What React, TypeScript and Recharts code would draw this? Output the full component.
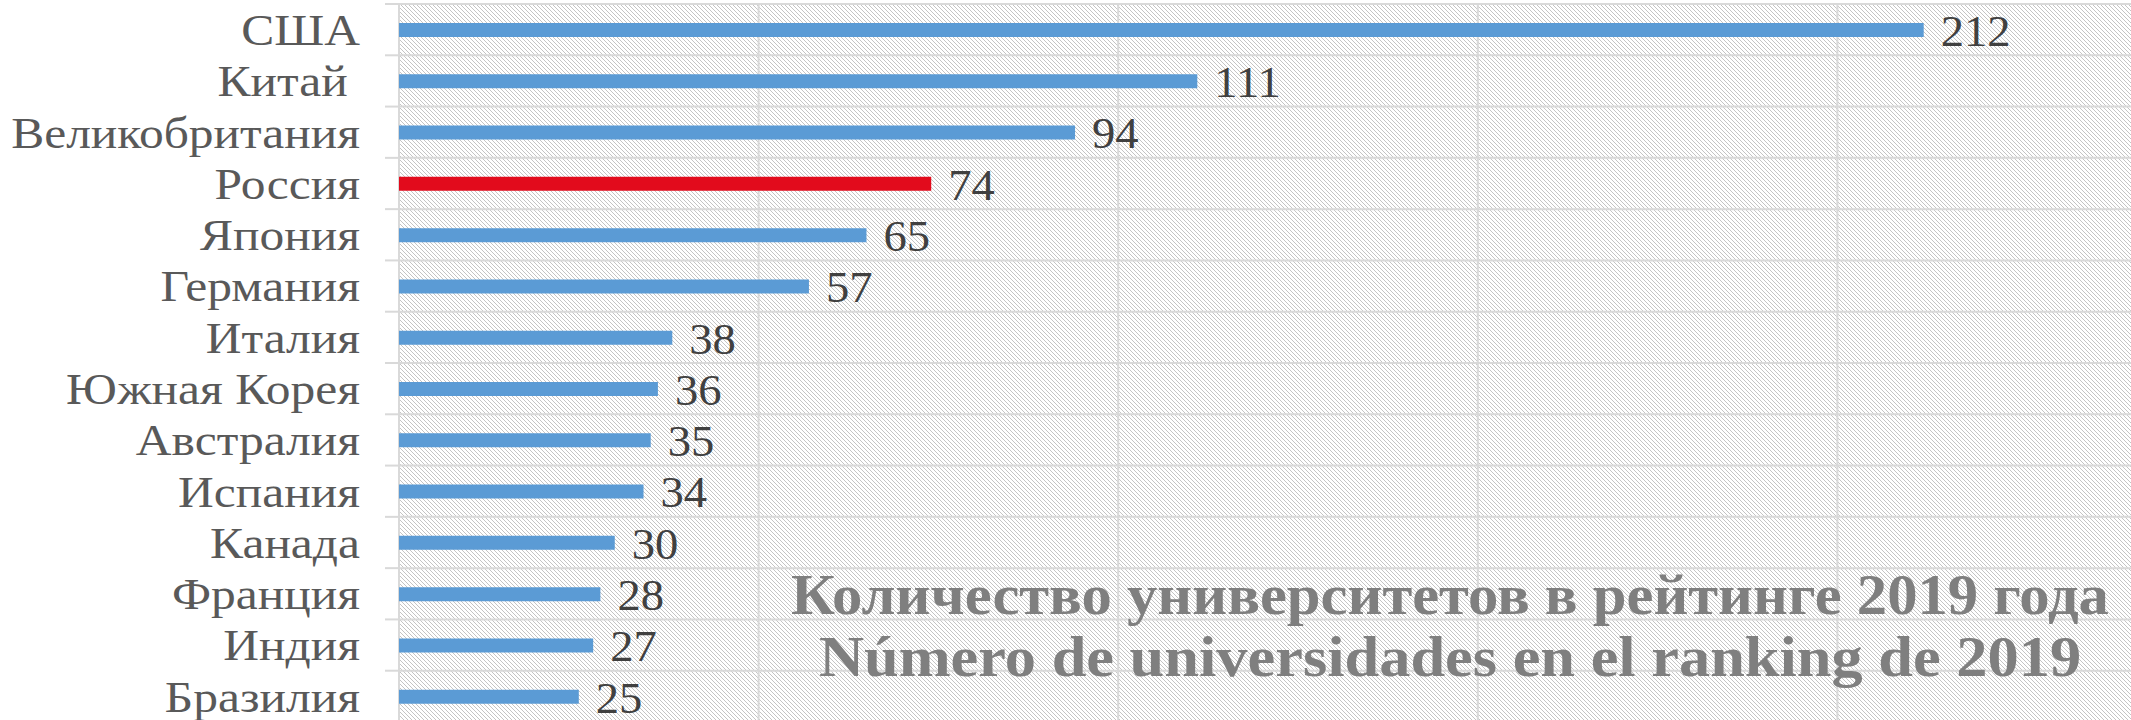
import React from 'react';
import { BarChart, Bar, XAxis, YAxis, CartesianGrid, Cell, LabelList } from 'recharts';

const countries = ['США', 'Китай ', 'Великобритания', 'Россия', 'Япония', 'Германия', 'Италия', 'Южная Корея', 'Австралия', 'Испания', 'Канада', 'Франция', 'Индия', 'Бразилия'];
const universities = [212, 111, 94, 74, 65, 57, 38, 36, 35, 34, 30, 28, 27, 25];
const xTicks = [0, 50, 100, 150, 200, 250];
const titleLines = ['Количество университетов в рейтинге 2019 года', 'Número de universidades en el ranking de 2019'];
const titleScales = [1.083, 1.114];
const highlight = 'Россия';

const data = countries.map((name, i) => ({ name, value: universities[i] }));

const CHART_W = 2200;
const CHART_H = 730;
const MARGIN = { top: 4, right: 3, bottom: 8, left: 0 };
const Y_W = 399;
const ROW_H = (CHART_H - MARGIN.top - MARGIN.bottom) / countries.length;
const FONT = '"Liberation Serif", "DejaVu Serif", serif';

const CategoryTick = (props: any) => {
  const { x, y, payload, index } = props;
  const last = index === countries.length - 1;
  return (
    <g>
      <line x1={x - 14} x2={x} y1={y - ROW_H / 2} y2={y - ROW_H / 2} stroke="#d9d9d9" strokeWidth={2} />
      {last && <line x1={x - 14} x2={x} y1={y + ROW_H / 2} y2={y + ROW_H / 2} stroke="#d9d9d9" strokeWidth={2} />}
      <text
        transform={`translate(${x - 39},${y}) scale(1.125,1)`}
        dy="0.35em"
        textAnchor="end"
        fill="#595959"
        fontSize={44}
        fontFamily={FONT}
        style={{ whiteSpace: 'pre' }}
      >
        {payload.value}
      </text>
    </g>
  );
};

const ValueLabel = (props: any) => {
  const { x, y, width, height, value } = props;
  const lx = Number(x) + Number(width) + 17;
  const ly = Number(y) + Number(height) / 2;
  return (
    <text transform={`translate(${lx},${ly}) scale(1.06,1)`} dy="0.36em" textAnchor="start" fill="#404040" fontSize={44} fontFamily={FONT}>
      {value}
    </text>
  );
};

export default function App() {
  return (
    <div style={{ position: 'fixed', left: 0, top: 0, width: 2131, height: 720, overflow: 'hidden', background: '#fff' }}>
      <svg width={0} height={0} style={{ position: 'absolute' }}>
        <defs>
          <pattern id="hatch" patternUnits="userSpaceOnUse" width={4} height={4}>
            <rect width={4} height={4} fill="#ffffff" />
            <path d="M-1,-1 L5,5 M3,-1 L5,1 M-1,3 L1,5" stroke="#c4c4c4" strokeWidth={1} />
          </pattern>
        </defs>
      </svg>
      <BarChart width={CHART_W} height={CHART_H} data={data} layout="vertical" margin={MARGIN}>
        <CartesianGrid
          fill="url(#hatch)"
          fillOpacity={1}
          stroke="#d9d9d9"
          strokeWidth={2}
          horizontalCoordinatesGenerator={({ offset }: any) =>
            countries.map((_, i) => offset.top + (i * offset.height) / countries.length).concat([offset.top + offset.height])
          }
          verticalCoordinatesGenerator={({ xAxis, offset }: any) =>
            xTicks.map((t) =>
              xAxis && typeof xAxis.scale === 'function'
                ? xAxis.scale(t)
                : offset.left + (t / xTicks[xTicks.length - 1]) * offset.width
            )
          }
        />
        <XAxis type="number" domain={[0, 250]} ticks={xTicks} tick={false} axisLine={false} tickLine={false} height={0} />
        <YAxis
          type="category"
          dataKey="name"
          width={Y_W}
          axisLine={false}
          tickLine={false}
          tickSize={0}
          tickMargin={0}
          interval={0}
          tick={<CategoryTick />}
        />
        <Bar dataKey="value" barSize={14} isAnimationActive={false}>
          {data.map((d) => (
            <Cell key={d.name} fill={d.name === highlight ? '#e20b1c' : '#5b9bd5'} />
          ))}
          <LabelList dataKey="value" content={<ValueLabel />} />
        </Bar>
      </BarChart>
      <div
        style={{
          position: 'absolute',
          left: 0,
          top: 564,
          width: 2900,
          marginLeft: 1450 - 1450,
          fontFamily: FONT,
          fontWeight: 'bold',
          fontSize: 56,
          lineHeight: '62px',
          color: '#7f7f7f',
        }}
      >
        {titleLines.map((t, i) => (
          <div key={t} style={{ textAlign: 'center', whiteSpace: 'nowrap', transform: `scaleX(${titleScales[i]})`, transformOrigin: '1450px 0' }}>
            {t}
          </div>
        ))}
      </div>
    </div>
  );
}
